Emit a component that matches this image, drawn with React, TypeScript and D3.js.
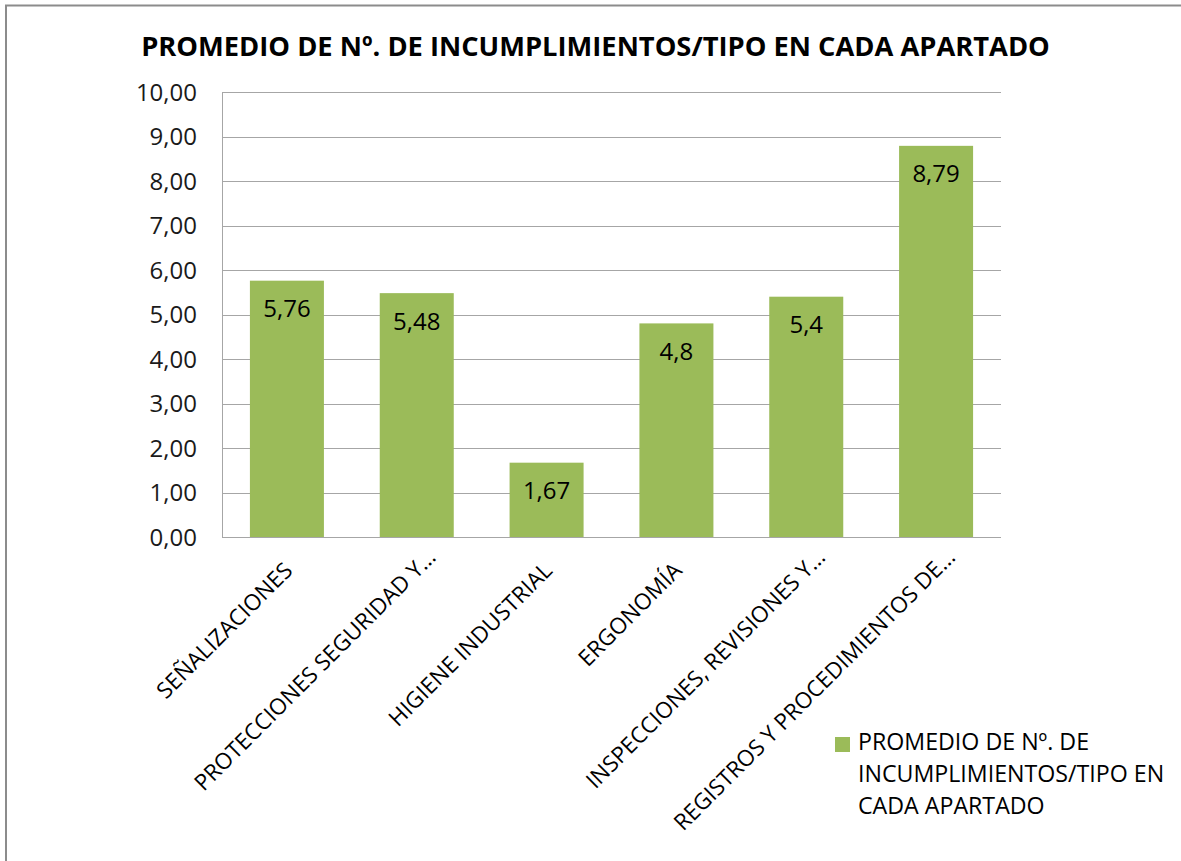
import React from "react";
import * as d3 from "d3";

const categories = [
  "SEÑALIZACIONES",
  "PROTECCIONES SEGURIDAD Y…",
  "HIGIENE INDUSTRIAL",
  "ERGONOMÍA",
  "INSPECCIONES, REVISIONES Y…",
  "REGISTROS Y PROCEDIMIENTOS DE…",
];
const values = [5.76, 5.48, 1.67, 4.8, 5.4, 8.79];
const valueLabels = ["5,76", "5,48", "1,67", "4,8", "5,4", "8,79"];
const yTicks = [0, 1, 2, 3, 4, 5, 6, 7, 8, 9, 10];
const title = "PROMEDIO DE Nº. DE INCUMPLIMIENTOS/TIPO EN CADA APARTADO";
const legendLines = ["PROMEDIO DE Nº. DE", "INCUMPLIMIENTOS/TIPO EN", "CADA APARTADO"];

const W = 1181;
const H = 861;
const FONT = "'Open Sans', 'Liberation Sans', sans-serif";
const BAR = "#9BBB59";
const GRID = "#A6A6A6";

export default function App() {
  const left = 222, right = 1001, top = 92, bottom = 537;
  const x = d3.scaleBand<string>().domain(categories).range([left, right]).paddingInner(0.43).paddingOuter(0.215);
  const y = d3.scaleLinear().domain([0, 10]).range([bottom, top]);
  const fmt = (v: number) => d3.format(".2f")(v).replace(".", ",");

  return (
    <svg width={W} height={H} style={{ position: "absolute", left: 0, top: 0, background: "#fff" }} fontFamily={FONT}>
      <rect x={0} y={0} width={W} height={H} fill="#fff" />
      <path d={`M6,${H + 5} V5.5 H${W + 5}`} fill="none" stroke="#8C8C8C" strokeWidth={2} />
      <text x={595.5} y={56} textAnchor="middle" fontSize={27.3} fontWeight="bold" fill="#000">{title}</text>
      {yTicks.map((t) => (
        <g key={t}>
          <line x1={left} x2={right} y1={Math.round(y(t)) + 0.5} y2={Math.round(y(t)) + 0.5} stroke={GRID} strokeWidth={1} />
          <text x={197} y={y(t)} dy="0.36em" textAnchor="end" fontSize={24} fill="#1a1a1a">{fmt(t)}</text>
        </g>
      ))}
      <line x1={left + 0.5} x2={left + 0.5} y1={top} y2={bottom} stroke={GRID} strokeWidth={1} />
      {categories.map((c, i) => {
        const bx = x(c)!;
        const by = y(values[i]);
        const cx = bx + x.bandwidth() / 2;
        const shift = c.endsWith("…") ? 19 : 0;
        return (
          <g key={c}>
            <rect x={bx} y={by} width={x.bandwidth()} height={bottom - by} fill={BAR} />
            <text x={cx} y={by + 36.5} textAnchor="middle" fontSize={24} fill="#000">{valueLabels[i]}</text>
            <text
              transform={`translate(${cx + 7},${bottom + 35}) rotate(-45)`}
              x={shift}
              textAnchor="end"
              fontSize={22.5}
              fill="#000"
            >{c}</text>
          </g>
        );
      })}
      <rect x={835} y={737} width={15} height={15} fill={BAR} />
      {legendLines.map((l, i) => (
        <text key={i} x={858} y={749.5 + i * 32} fontSize={23.2} fill="#000">{l}</text>
      ))}
    </svg>
  );
}
